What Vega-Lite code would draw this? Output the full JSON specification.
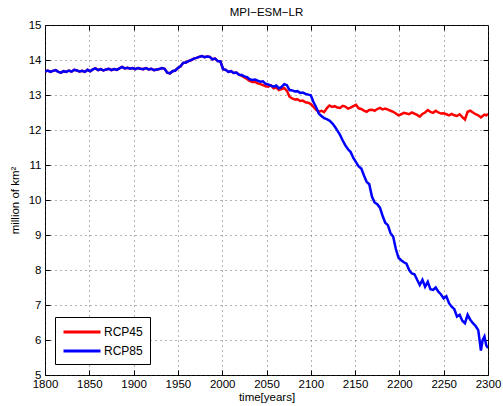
{
  "$schema": "https://vega.github.io/schema/vega-lite/v6.json",
  "autosize": {"type": "none"},
  "padding": {"left": 45, "top": 25, "right": 15, "bottom": 31},
  "width": 443,
  "height": 350,
  "background": "white",
  "config": {
    "font": "Liberation Sans",
    "view": {"stroke": "#000", "strokeWidth": 1},
    "axis": {"labelFont": "Liberation Sans", "titleFont": "Liberation Sans", "labelColor": "#000", "titleColor": "#000", "labelFontSize": 11.5, "titleFontSize": 11.5, "titleFontWeight": "normal", "domain": false, "tickColor": "#000"}
  },
  "title": {"text": "MPI−ESM−LR", "fontSize": 11.5, "fontWeight": "normal", "font": "Liberation Sans", "color": "#000", "offset": 1},
  "data": {"values": [
    {"t":1800,"RCP45":13.67,"RCP85":13.67},{"t":1803,"RCP45":13.70,"RCP85":13.70},{"t":1806,"RCP45":13.66,"RCP85":13.66},{"t":1809,"RCP45":13.69,"RCP85":13.69},
    {"t":1812,"RCP45":13.71,"RCP85":13.71},{"t":1815,"RCP45":13.66,"RCP85":13.66},{"t":1818,"RCP45":13.64,"RCP85":13.64},{"t":1821,"RCP45":13.68,"RCP85":13.68},
    {"t":1824,"RCP45":13.66,"RCP85":13.66},{"t":1827,"RCP45":13.70,"RCP85":13.70},{"t":1830,"RCP45":13.67,"RCP85":13.67},{"t":1833,"RCP45":13.72,"RCP85":13.72},
    {"t":1836,"RCP45":13.70,"RCP85":13.70},{"t":1839,"RCP45":13.67,"RCP85":13.67},{"t":1842,"RCP45":13.69,"RCP85":13.69},{"t":1845,"RCP45":13.66,"RCP85":13.66},
    {"t":1848,"RCP45":13.72,"RCP85":13.72},{"t":1851,"RCP45":13.68,"RCP85":13.68},{"t":1854,"RCP45":13.73,"RCP85":13.73},{"t":1857,"RCP45":13.76,"RCP85":13.76},
    {"t":1860,"RCP45":13.71,"RCP85":13.71},{"t":1863,"RCP45":13.74,"RCP85":13.74},{"t":1866,"RCP45":13.70,"RCP85":13.70},{"t":1869,"RCP45":13.73,"RCP85":13.73},
    {"t":1872,"RCP45":13.75,"RCP85":13.75},{"t":1875,"RCP45":13.71,"RCP85":13.71},{"t":1878,"RCP45":13.74,"RCP85":13.74},{"t":1881,"RCP45":13.72,"RCP85":13.72},
    {"t":1884,"RCP45":13.76,"RCP85":13.76},{"t":1887,"RCP45":13.80,"RCP85":13.80},{"t":1890,"RCP45":13.76,"RCP85":13.76},{"t":1893,"RCP45":13.78,"RCP85":13.78},
    {"t":1896,"RCP45":13.75,"RCP85":13.75},{"t":1899,"RCP45":13.77,"RCP85":13.77},{"t":1902,"RCP45":13.74,"RCP85":13.74},{"t":1905,"RCP45":13.77,"RCP85":13.77},
    {"t":1908,"RCP45":13.75,"RCP85":13.75},{"t":1911,"RCP45":13.74,"RCP85":13.74},{"t":1914,"RCP45":13.77,"RCP85":13.77},{"t":1917,"RCP45":13.73,"RCP85":13.73},
    {"t":1920,"RCP45":13.75,"RCP85":13.75},{"t":1923,"RCP45":13.71,"RCP85":13.71},{"t":1926,"RCP45":13.73,"RCP85":13.73},{"t":1929,"RCP45":13.74,"RCP85":13.74},
    {"t":1932,"RCP45":13.77,"RCP85":13.77},{"t":1935,"RCP45":13.75,"RCP85":13.75},{"t":1938,"RCP45":13.64,"RCP85":13.64},{"t":1941,"RCP45":13.62,"RCP85":13.62},
    {"t":1944,"RCP45":13.68,"RCP85":13.68},{"t":1947,"RCP45":13.70,"RCP85":13.70},{"t":1950,"RCP45":13.77,"RCP85":13.77},{"t":1953,"RCP45":13.82,"RCP85":13.82},
    {"t":1956,"RCP45":13.92,"RCP85":13.92},{"t":1959,"RCP45":13.93,"RCP85":13.93},{"t":1962,"RCP45":13.97,"RCP85":13.97},{"t":1965,"RCP45":14.00,"RCP85":14.00},
    {"t":1968,"RCP45":14.04,"RCP85":14.04},{"t":1971,"RCP45":14.06,"RCP85":14.06},{"t":1974,"RCP45":14.09,"RCP85":14.09},{"t":1977,"RCP45":14.11,"RCP85":14.11},
    {"t":1980,"RCP45":14.08,"RCP85":14.08},{"t":1983,"RCP45":14.10,"RCP85":14.10},{"t":1986,"RCP45":14.09,"RCP85":14.09},{"t":1989,"RCP45":14.02,"RCP85":14.02},
    {"t":1992,"RCP45":14.04,"RCP85":14.04},{"t":1995,"RCP45":13.97,"RCP85":13.97},{"t":1998,"RCP45":13.96,"RCP85":13.96},{"t":2001,"RCP45":13.74,"RCP85":13.74},
    {"t":2004,"RCP45":13.72,"RCP85":13.72},{"t":2007,"RCP45":13.66,"RCP85":13.66},{"t":2010,"RCP45":13.68,"RCP85":13.68},{"t":2013,"RCP45":13.63,"RCP85":13.63},
    {"t":2016,"RCP45":13.64,"RCP85":13.64},{"t":2019,"RCP45":13.58,"RCP85":13.58},
    {"t":2022,"RCP45":13.55,"RCP85":13.57},{"t":2025,"RCP45":13.50,"RCP85":13.53},{"t":2028,"RCP45":13.46,"RCP85":13.51},{"t":2031,"RCP45":13.40,"RCP85":13.45},
    {"t":2034,"RCP45":13.37,"RCP85":13.43},{"t":2037,"RCP45":13.38,"RCP85":13.44},{"t":2040,"RCP45":13.33,"RCP85":13.41},{"t":2043,"RCP45":13.31,"RCP85":13.38},
    {"t":2046,"RCP45":13.28,"RCP85":13.39},{"t":2049,"RCP45":13.25,"RCP85":13.32},{"t":2052,"RCP45":13.24,"RCP85":13.30},{"t":2055,"RCP45":13.28,"RCP85":13.27},
    {"t":2058,"RCP45":13.19,"RCP85":13.24},{"t":2061,"RCP45":13.21,"RCP85":13.27},{"t":2064,"RCP45":13.14,"RCP85":13.19},{"t":2067,"RCP45":13.17,"RCP85":13.23},
    {"t":2070,"RCP45":13.20,"RCP85":13.31},{"t":2073,"RCP45":13.12,"RCP85":13.28},{"t":2076,"RCP45":12.95,"RCP85":13.14},{"t":2079,"RCP45":12.90,"RCP85":13.13},
    {"t":2082,"RCP45":12.87,"RCP85":13.10},{"t":2085,"RCP45":12.88,"RCP85":13.11},{"t":2088,"RCP45":12.83,"RCP85":13.06},{"t":2091,"RCP45":12.84,"RCP85":13.07},
    {"t":2094,"RCP45":12.79,"RCP85":13.03},{"t":2097,"RCP45":12.78,"RCP85":13.01},{"t":2100,"RCP45":12.74,"RCP85":12.99},{"t":2103,"RCP45":12.66,"RCP85":12.80},
    {"t":2106,"RCP45":12.58,"RCP85":12.65},{"t":2109,"RCP45":12.52,"RCP85":12.47},{"t":2112,"RCP45":12.55,"RCP85":12.40},{"t":2115,"RCP45":12.51,"RCP85":12.34},
    {"t":2118,"RCP45":12.62,"RCP85":12.31},{"t":2121,"RCP45":12.70,"RCP85":12.27},{"t":2124,"RCP45":12.66,"RCP85":12.20},{"t":2127,"RCP45":12.68,"RCP85":12.10},
    {"t":2130,"RCP45":12.64,"RCP85":11.98},{"t":2133,"RCP45":12.63,"RCP85":11.86},{"t":2136,"RCP45":12.69,"RCP85":11.70},{"t":2139,"RCP45":12.67,"RCP85":11.56},
    {"t":2142,"RCP45":12.61,"RCP85":11.45},{"t":2145,"RCP45":12.64,"RCP85":11.37},{"t":2148,"RCP45":12.68,"RCP85":11.20},{"t":2151,"RCP45":12.72,"RCP85":11.08},
    {"t":2154,"RCP45":12.62,"RCP85":10.96},{"t":2157,"RCP45":12.60,"RCP85":10.90},{"t":2160,"RCP45":12.55,"RCP85":10.70},{"t":2163,"RCP45":12.52,"RCP85":10.52},
    {"t":2166,"RCP45":12.57,"RCP85":10.45},{"t":2169,"RCP45":12.58,"RCP85":10.10},{"t":2172,"RCP45":12.55,"RCP85":9.93},{"t":2175,"RCP45":12.60,"RCP85":9.88},
    {"t":2178,"RCP45":12.63,"RCP85":9.78},{"t":2181,"RCP45":12.59,"RCP85":9.55},{"t":2184,"RCP45":12.61,"RCP85":9.35},{"t":2187,"RCP45":12.58,"RCP85":9.28},
    {"t":2190,"RCP45":12.55,"RCP85":9.05},{"t":2193,"RCP45":12.52,"RCP85":8.95},{"t":2196,"RCP45":12.47,"RCP85":8.60},{"t":2199,"RCP45":12.42,"RCP85":8.35},
    {"t":2202,"RCP45":12.45,"RCP85":8.28},{"t":2205,"RCP45":12.49,"RCP85":8.22},{"t":2208,"RCP45":12.47,"RCP85":8.18},{"t":2211,"RCP45":12.45,"RCP85":8.00},
    {"t":2214,"RCP45":12.50,"RCP85":7.90},{"t":2217,"RCP45":12.47,"RCP85":7.88},{"t":2220,"RCP45":12.43,"RCP85":7.72},{"t":2223,"RCP45":12.38,"RCP85":7.57},
    {"t":2226,"RCP45":12.46,"RCP85":7.72},{"t":2229,"RCP45":12.50,"RCP85":7.52},{"t":2232,"RCP45":12.57,"RCP85":7.66},{"t":2235,"RCP45":12.52,"RCP85":7.45},
    {"t":2238,"RCP45":12.49,"RCP85":7.43},{"t":2241,"RCP45":12.55,"RCP85":7.50},{"t":2244,"RCP45":12.50,"RCP85":7.38},{"t":2247,"RCP45":12.47,"RCP85":7.30},
    {"t":2250,"RCP45":12.48,"RCP85":7.19},{"t":2253,"RCP45":12.45,"RCP85":7.25},{"t":2256,"RCP45":12.42,"RCP85":7.05},{"t":2259,"RCP45":12.46,"RCP85":6.95},
    {"t":2262,"RCP45":12.42,"RCP85":6.88},{"t":2265,"RCP45":12.40,"RCP85":6.67},{"t":2268,"RCP45":12.45,"RCP85":6.72},{"t":2271,"RCP45":12.37,"RCP85":6.55},
    {"t":2274,"RCP45":12.30,"RCP85":6.48},{"t":2277,"RCP45":12.52,"RCP85":6.72},{"t":2280,"RCP45":12.55,"RCP85":6.58},{"t":2283,"RCP45":12.50,"RCP85":6.48},
    {"t":2286,"RCP45":12.45,"RCP85":6.40},{"t":2289,"RCP45":12.42,"RCP85":6.28},{"t":2292,"RCP45":12.36,"RCP85":5.70},{"t":2294,"RCP45":12.40,"RCP85":6.00},
    {"t":2296,"RCP45":12.44,"RCP85":6.10},{"t":2298,"RCP45":12.42,"RCP85":5.85},{"t":2300,"RCP45":12.46,"RCP85":5.77}
  ]},
  "transform": [{"fold": ["RCP45", "RCP85"], "as": ["series", "value"]}],
  "layer": [
    {
      "mark": {"type": "line", "strokeWidth": 2.5, "clip": true},
      "encoding": {
        "x": {"field": "t", "type": "quantitative", "scale": {"domain": [1800, 2300], "nice": false},
              "axis": {"values": [1800,1850,1900,1950,2000,2050,2100,2150,2200,2250,2300], "format": "d", "title": "time[years]", "titlePadding": 2, "tickSize": -5, "labelPadding": 8, "grid": true, "gridColor": "#444", "gridDash": [1, 4], "gridOpacity": 0.8, "labelFlush": false}},
        "y": {"field": "value", "type": "quantitative", "scale": {"domain": [5, 15], "nice": false, "zero": false},
              "axis": {"values": [5,6,7,8,9,10,11,12,13,14,15], "title": "million of km²", "titlePadding": 8, "tickSize": -5, "labelPadding": 9, "grid": true, "gridColor": "#444", "gridDash": [1, 4], "gridOpacity": 0.8}},
        "color": {"field": "series", "type": "nominal",
                  "scale": {"domain": ["RCP45", "RCP85"], "range": ["#ff0000", "#0000ff"]},
                  "legend": {"title": null, "orient": "none", "legendX": 10, "legendY": 292, "symbolType": "M-3,0H3", "symbolSize": 152, "symbolStrokeWidth": 3, "strokeColor": "#000", "fillColor": "#fff", "padding": 7, "labelFontSize": 12, "labelFont": "Liberation Sans", "labelColor": "#000", "labelOffset": 14, "rowPadding": 5, "symbolOffset": 12}}
      }
    },
    {
      "mark": {"type": "line", "opacity": 0},
      "encoding": {
        "x": {"field": "t", "type": "quantitative", "axis": {"orient": "top", "values": [1850,1900,1950,2000,2050,2100,2150,2200,2250], "labels": false, "title": null, "tickSize": -5, "grid": false}},
        "y": {"field": "value", "type": "quantitative", "axis": {"orient": "right", "values": [6,7,8,9,10,11,12,13,14], "labels": false, "title": null, "tickSize": -5, "grid": false}}
      }
    }
  ],
  "resolve": {"axis": {"x": "independent", "y": "independent"}}
}
